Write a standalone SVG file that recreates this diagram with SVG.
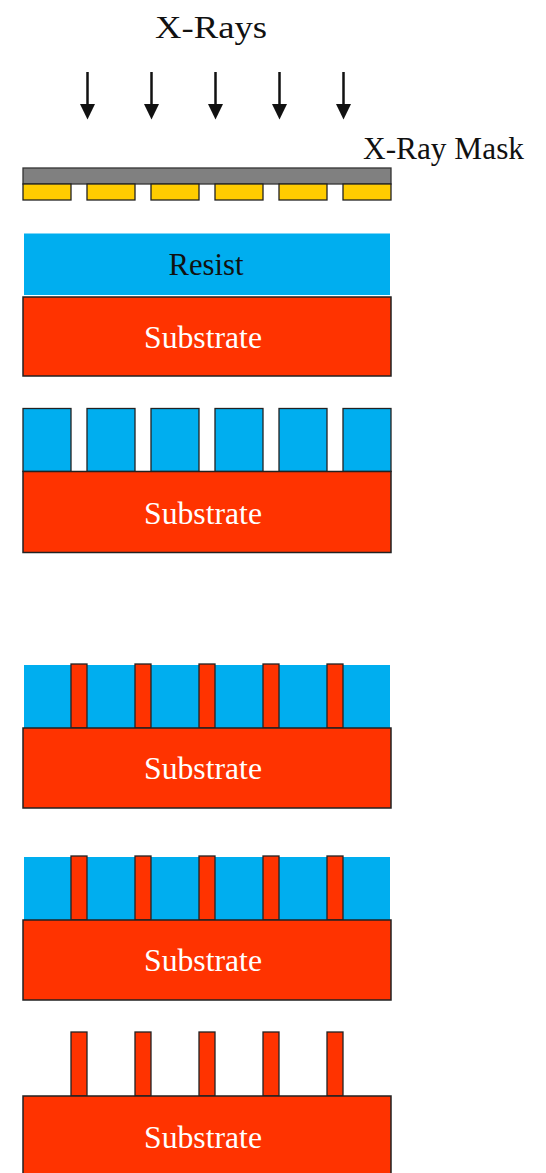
<svg xmlns="http://www.w3.org/2000/svg" width="546" height="1173" viewBox="0 0 546 1173">
<style>
text{font-family:"Liberation Serif","Times New Roman",serif;font-size:31px}
.lbl{fill:#111}
.sub{fill:#fff;text-anchor:middle}
.subs{fill:#ff3300;stroke:#222;stroke-width:1.5}
.post{fill:#ff3300;stroke:#222;stroke-width:1.3}
.res{fill:#00aeef}
.pil{fill:#00aeef;stroke:#222;stroke-width:1.3}
.pad{fill:#ffcc00;stroke:#222;stroke-width:1.3}
.mask{fill:#808080;stroke:#333;stroke-width:1.3}
.shaft{stroke:#111;stroke-width:2.5}
.head{fill:#111}
</style>

<g id="xrays-label"><text class="lbl" x="155" y="38" font-size="35" textLength="112" lengthAdjust="spacingAndGlyphs">X-Rays</text></g>

<g id="connectors">
<line class="shaft" x1="87.5" y1="72" x2="87.5" y2="105"/><path class="head" d="M80,104 L95,104 L87.5,119.5 z"/>
<line class="shaft" x1="151.5" y1="72" x2="151.5" y2="105"/><path class="head" d="M144,104 L159,104 L151.5,119.5 z"/>
<line class="shaft" x1="215.5" y1="72" x2="215.5" y2="105"/><path class="head" d="M208,104 L223,104 L215.5,119.5 z"/>
<line class="shaft" x1="279.5" y1="72" x2="279.5" y2="105"/><path class="head" d="M272,104 L287,104 L279.5,119.5 z"/>
<line class="shaft" x1="343.5" y1="72" x2="343.5" y2="105"/><path class="head" d="M336,104 L351,104 L343.5,119.5 z"/>
</g>

<g id="mask">
<text class="lbl" x="363" y="159" textLength="161" lengthAdjust="spacingAndGlyphs">X-Ray Mask</text>
<rect class="mask" x="23" y="168" width="368" height="16"/>
<rect class="pad" x="23" y="184" width="48" height="16"/>
<rect class="pad" x="87" y="184" width="48" height="16"/>
<rect class="pad" x="151" y="184" width="48" height="16"/>
<rect class="pad" x="215" y="184" width="48" height="16"/>
<rect class="pad" x="279" y="184" width="48" height="16"/>
<rect class="pad" x="343" y="184" width="48" height="16"/>
</g>

<g id="step1">
<rect class="res" x="24" y="233.5" width="366" height="61.5"/>
<text class="lbl" x="206" y="275" text-anchor="middle" font-size="30" textLength="75" lengthAdjust="spacingAndGlyphs">Resist</text>
<rect class="subs" x="23" y="297" width="368" height="79"/>
<text class="sub" x="203" y="348" textLength="118" lengthAdjust="spacingAndGlyphs">Substrate</text>
</g>

<g id="step2">
<rect class="pil" x="23" y="408.5" width="48" height="63"/>
<rect class="pil" x="87" y="408.5" width="48" height="63"/>
<rect class="pil" x="151" y="408.5" width="48" height="63"/>
<rect class="pil" x="215" y="408.5" width="48" height="63"/>
<rect class="pil" x="279" y="408.5" width="48" height="63"/>
<rect class="pil" x="343" y="408.5" width="48" height="63"/>
<rect class="subs" x="23" y="471.5" width="368" height="81"/>
<text class="sub" x="203" y="524" textLength="118" lengthAdjust="spacingAndGlyphs">Substrate</text>
</g>

<g id="step3">
<rect class="res" x="24" y="665" width="366" height="63"/>
<rect class="post" x="71" y="664" width="16" height="64"/>
<rect class="post" x="135" y="664" width="16" height="64"/>
<rect class="post" x="199" y="664" width="16" height="64"/>
<rect class="post" x="263" y="664" width="16" height="64"/>
<rect class="post" x="327" y="664" width="16" height="64"/>
<rect class="subs" x="23" y="728" width="368" height="80"/>
<text class="sub" x="203" y="778.5" textLength="118" lengthAdjust="spacingAndGlyphs">Substrate</text>
</g>

<g id="step4">
<rect class="res" x="24" y="857" width="366" height="63"/>
<rect class="post" x="71" y="856" width="16" height="64"/>
<rect class="post" x="135" y="856" width="16" height="64"/>
<rect class="post" x="199" y="856" width="16" height="64"/>
<rect class="post" x="263" y="856" width="16" height="64"/>
<rect class="post" x="327" y="856" width="16" height="64"/>
<rect class="subs" x="23" y="920" width="368" height="80"/>
<text class="sub" x="203" y="971" textLength="118" lengthAdjust="spacingAndGlyphs">Substrate</text>
</g>

<g id="step5">
<rect class="post" x="71" y="1032" width="16" height="64"/>
<rect class="post" x="135" y="1032" width="16" height="64"/>
<rect class="post" x="199" y="1032" width="16" height="64"/>
<rect class="post" x="263" y="1032" width="16" height="64"/>
<rect class="post" x="327" y="1032" width="16" height="64"/>
<rect class="subs" x="23" y="1096" width="368" height="90"/>
<text class="sub" x="203" y="1147.5" textLength="118" lengthAdjust="spacingAndGlyphs">Substrate</text>
</g>
</svg>
